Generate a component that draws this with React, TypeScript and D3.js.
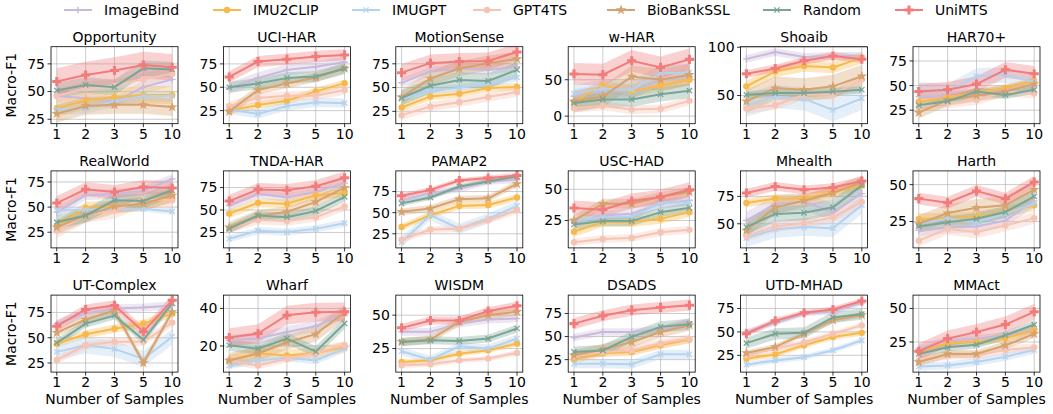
import React from "react";
import * as d3 from "d3";

const xLabels = ["1", "2", "3", "5", "10"];
const datasets = [
  "Opportunity", "UCI-HAR", "MotionSense", "w-HAR", "Shoaib", "HAR70+",
  "RealWorld", "TNDA-HAR", "PAMAP2", "USC-HAD", "Mhealth", "Harth",
  "UT-Complex", "Wharf", "WISDM", "DSADS", "UTD-MHAD", "MMAct",
];
const yDomains: [number, number][] = [
  [21, 90.5], [11, 93.4], [12, 93], [-10.4, 95.4], [20.8, 100.6], [11.3, 89.5],
  [9.4, 86], [7.8, 93.6], [8.2, 99.5], [3, 64.8], [28, 98.2], [7.1, 59.3],
  [16, 92.2], [6.1, 47.1], [7.4, 65], [11.5, 94.9], [7.1, 89.3], [2.5, 60],
];
const yTicks: number[][] = [
  [25, 50, 75], [25, 50, 75], [25, 50, 75], [0, 50], [50, 100], [25, 50, 75],
  [25, 50, 75], [25, 50, 75], [25, 50, 75], [25, 50], [50, 75], [25, 50],
  [25, 50, 75], [20, 40], [25, 50], [25, 50, 75], [25, 50, 75], [25, 50],
];

const seriesNames = ["ImageBind", "IMU2CLIP", "IMUGPT", "GPT4TS", "BioBankSSL", "Random", "UniMTS"];
const seriesColors = ["#c9b9da", "#f8b94c", "#b5d2ee", "#f6c4b5", "#d6a26d", "#7aa595", "#f27c7c"];
const seriesMarkers = ["plus", "circle", "x", "circle", "star", "x", "fplus"];

const imageBindValues = [
  [46, 44, 41, 54, 61], [49, 60, 68.6, 72, 77], [55, 66.8, 70, 68.6, 72], [27, 34, 34, 50, 54.5],
  [88, 95, 90, 91, 91], [38.8, 38.8, 42, 45.7, 50], [45, 61.7, 63, 66, 78], [55, 68, 64, 70, 80],
  [65, 73, 78, 87, 89], [23.7, 29, 30.4, 38.4, 41], [53, 68, 70, 60.7, 77.5], [19, 21, 21.6, 25.7, 39],
  [64, 74, 79, 80, 82], [23, 24, 27.5, 30.5, 37.3], [37.5, 37.5, 43.7, 46.7, 47.5], [49, 55, 55, 57.6, 66],
  [50, 59.6, 69.6, 71.4, 81], [20, 26, 27.5, 29, 35],
];
const imu2clipValues = [
  [35, 42, 45, 47, 47], [25, 31, 35.6, 45.6, 54.4], [29, 40.7, 43.6, 49.6, 50.7], [20, 42, 34, 42, 50],
  [59.5, 75, 80.6, 79, 89], [33.6, 37.8, 43, 47.4, 55], [30.7, 49.3, 50.7, 53.3, 60], [46, 58, 57, 66.4, 69],
  [33, 47, 58, 59, 68], [16, 23.7, 23.7, 26.3, 31.7], [69, 73, 73, 79, 85], [26.8, 26.8, 28, 31.4, 36],
  [44, 53.5, 59, 64, 74], [12.3, 16, 15, 16.3, 19.5], [15, 16.2, 21.2, 23.7, 28.7], [25, 32, 33.3, 40.6, 46.7],
  [21.4, 26, 35.7, 44.6, 49], [18, 24, 25, 28, 33.7],
];
const imugptValues = [
  [34, 35, 41, 46, 46], [26, 21.5, 30, 34, 33], [38, 47, 49.6, 54, 60.7], [31, 38, 36, 59, 60],
  [40, 49, 46.5, 35, 47], [45.7, 44, 59.5, 61, 54], [46.7, 47.3, 48.3, 48.3, 45.7], [18, 27, 25.4, 29, 35.4],
  [15, 47, 31, 43, 58], [25, 27.7, 28.2, 39, 39.8], [37, 45, 47, 46, 67], [23.4, 26.8, 24.5, 30.2, 37],
  [36, 42.5, 39, 29, 51], [9.6, 12.3, 13.7, 12.3, 18.6], [23, 16.7, 26.7, 25, 32.5], [20.6, 20.6, 20, 30.8, 30.8],
  [15, 19.6, 23, 30.4, 41], [6.7, 7.5, 10, 14, 19],
];
const gpt4tsValues = [
  [46, 53, 55, 61, 66], [30, 38.5, 41, 41, 47], [21, 30, 34.6, 40, 45.4], [11, 14, 9, 10, 21],
  [36.6, 40, 50.7, 50.7, 66.5], [28.5, 32, 35.3, 44, 42], [26.7, 42.3, 46.7, 58.3, 56.7], [29, 39, 37.7, 42, 54],
  [18, 30, 31, 41, 53], [7.5, 10.2, 11, 15.6, 17.5], [39, 47.6, 50.6, 56, 70], [12, 20, 17.7, 22.3, 27.3],
  [28, 42.5, 46, 46, 65], [12.3, 9.6, 13.2, 16.3, 20.4], [12.5, 13.2, 16.2, 17.5, 21.7], [28.6, 33.3, 35, 42.4, 47.8],
  [25, 32, 39, 48, 57], [11, 15, 15, 19, 21],
];
const bioBankValues = [
  [30, 37, 38, 38, 36], [24, 47, 54, 60.5, 70], [40, 59.6, 70, 75.7, 80], [20, 27, 54.5, 50, 57],
  [44, 57.7, 56, 59.5, 70], [22.6, 35.3, 40, 44, 51.5], [30, 41.7, 50.7, 53.3, 61.7], [31, 44, 47.8, 59, 75],
  [51, 55, 66, 67, 84], [25, 38.4, 38.4, 43.8, 47.8], [44, 65, 71, 78, 88], [23.4, 30.7, 34.3, 36, 46.6],
  [55, 68, 77, 25, 75.6], [12.3, 16, 22, 26.3, 38], [30, 31.8, 45, 50, 52.5], [29.7, 36, 44, 55, 62.3],
  [27.5, 34, 48, 62.5, 68], [10, 16, 16, 22.5, 31],
];
const randomValues = [
  [51, 56, 54, 71, 70], [50, 54, 60, 61.5, 70], [39, 52, 58, 57, 68.6], [18, 23, 23, 30, 35],
  [50.7, 52.5, 52.5, 54, 56], [30, 34, 44, 40.5, 45.7], [35, 41.7, 56.7, 56, 66.7], [29, 44, 42, 49, 64.6],
  [61, 68, 81, 87, 93], [21.8, 24.5, 24.5, 31.7, 35.2], [47, 59, 60, 65, 85], [21.6, 24.5, 26.8, 31.4, 42],
  [45, 64, 72, 48, 84], [20.4, 18.6, 24, 17, 32], [30, 31.2, 30.7, 32.5, 40], [33.3, 35, 49.6, 60.5, 63.4],
  [38, 48, 49, 65.4, 69], [16, 21, 23, 30, 38],
];
const uniMTSValues = [
  [59, 65, 69, 74, 72], [61, 77.5, 80, 83, 84.6], [65.7, 75.7, 77.5, 78, 87.5], [58, 57, 76, 67, 78],
  [72.5, 78, 86, 91, 87.7], [44, 45.7, 51.5, 66, 62], [54, 67.7, 65, 70, 69], [60, 73, 72, 76.5, 86],
  [70, 77, 88, 91, 94], [35, 33.6, 40.6, 43.8, 49.7], [78, 84, 81, 83, 89], [40.5, 37.7, 45.7, 40.5, 51.8],
  [61.4, 78, 82, 56, 87], [24.5, 26.6, 36.4, 38, 38.2], [40.5, 46, 46, 53, 57], [64, 72.5, 78.6, 81.5, 84],
  [48, 61.8, 70.4, 74, 83], [18, 27.5, 32.5, 38, 47.5],
];
// per-dataset band half-width (std) for each series
const imageBindStd = [6, 6, 5, 10, 4, 5, 5, 5, 4, 4, 8, 4, 4, 3, 3, 4, 3, 3];
const imu2clipStd = [8, 4, 4, 8, 6, 4, 6, 5, 4, 4, 4, 4, 4, 3, 2, 4, 3, 3];
const imugptStd = [5, 5, 4, 12, 12, 8, 3, 4, 6, 3, 8, 3, 8, 2, 3, 5, 3, 3];
const gpt4tsStd = [6, 5, 5, 6, 5, 5, 8, 5, 4, 3, 5, 4, 4, 2, 2, 5, 3, 3];
const bioBankStd = [8, 5, 8, 15, 12, 6, 7, 6, 4, 4, 6, 6, 4, 4, 3, 6, 3, 3];
const randomStd = [7, 6, 8, 10, 4, 4, 7, 5, 3, 4, 7, 4, 4, 3, 3, 6, 6, 3];
const uniMTSStd = [12, 6, 9, 15, 4, 8, 7, 7, 3, 6, 4, 4, 5, 5, 3, 6, 3, 6];

const allValues = [imageBindValues, imu2clipValues, imugptValues, gpt4tsValues, bioBankValues, randomValues, uniMTSValues];
const allStd = [imageBindStd, imu2clipStd, imugptStd, gpt4tsStd, bioBankStd, randomStd, uniMTSStd];

const W = 1053, H = 414;
const FONT = "DejaVu Sans, sans-serif";
const PANEL_W = 127, PANEL_H = 77;
const COL_X0 = 51, COL_STEP = 172.4;
const ROW_Y0 = 46.7, ROW_STEP = 124.2;
const legendTextX = [104, 253, 392, 513, 647, 803, 935];

function Marker({ type, x, y, color }: { type: string; x: number; y: number; color: string }) {
  const s = 3.3;
  if (type === "circle") return <circle cx={x} cy={y} r={3.2} fill={color} />;
  if (type === "plus")
    return (
      <path d={`M${x - s},${y}H${x + s}M${x},${y - s}V${y + s}`} stroke={color} strokeWidth={1.4} fill="none" />
    );
  if (type === "x")
    return (
      <path
        d={`M${x - s * 0.8},${y - s * 0.8}L${x + s * 0.8},${y + s * 0.8}M${x - s * 0.8},${y + s * 0.8}L${x + s * 0.8},${y - s * 0.8}`}
        stroke={color}
        strokeWidth={1.3}
        fill="none"
      />
    );
  if (type === "star")
    return <path d={d3.symbol(d3.symbolStar, 34)() || ""} transform={`translate(${x},${y})`} fill={color} />;
  return <path d={d3.symbol(d3.symbolCross, 46)() || ""} transform={`translate(${x},${y})`} fill={color} />;
}

function Panel({ idx }: { idx: number }) {
  const col = idx % 6, row = Math.floor(idx / 6);
  const left = COL_X0 + col * COL_STEP;
  const top = ROW_Y0 + row * ROW_STEP;
  const x = d3.scaleLinear().domain([-0.2, 4.2]).range([0, PANEL_W]);
  const y = d3.scaleLinear().domain(yDomains[idx]).range([PANEL_H, 0]);
  const clipId = `clip${idx}`;
  const area = d3
    .area<[number, number, number]>()
    .x((d) => x(d[0]))
    .y0((d) => y(d[1] - d[2]))
    .y1((d) => y(d[1] + d[2]));
  const line = d3
    .line<[number, number]>()
    .x((d) => x(d[0]))
    .y((d) => y(d[1]));
  return (
    <g transform={`translate(${left},${top})`}>
      <defs>
        <clipPath id={clipId}>
          <rect x={0} y={0} width={PANEL_W} height={PANEL_H} />
        </clipPath>
      </defs>
      {/* grid */}
      {xLabels.map((_, i) => (
        <line key={"gx" + i} x1={x(i)} x2={x(i)} y1={0} y2={PANEL_H} stroke="#b0b0b0" strokeWidth={0.8} opacity={0.8} />
      ))}
      {yTicks[idx].map((t) => (
        <line key={"gy" + t} x1={0} x2={PANEL_W} y1={y(t)} y2={y(t)} stroke="#b0b0b0" strokeWidth={0.8} opacity={0.8} />
      ))}
      <g clipPath={`url(#${clipId})`}>
        {allValues.map((sv, s) => {
          const vals = sv[idx];
          const sd = allStd[s][idx];
          const pts = vals.map((v, i) => [i, v, sd] as [number, number, number]);
          return (
            <g key={s}>
              <path d={area(pts) || ""} fill={seriesColors[s]} opacity={0.35} />
            </g>
          );
        })}
        {allValues.map((sv, s) => {
          const vals = sv[idx];
          const pts = vals.map((v, i) => [i, v] as [number, number]);
          return (
            <g key={"l" + s}>
              <path d={line(pts) || ""} fill="none" stroke={seriesColors[s]} strokeWidth={2} />
              {pts.map((p, i) => (
                <Marker key={i} type={seriesMarkers[s]} x={x(p[0])} y={y(p[1])} color={seriesColors[s]} />
              ))}
            </g>
          );
        })}
      </g>
      <rect x={0} y={0} width={PANEL_W} height={PANEL_H} fill="none" stroke="#000" strokeWidth={0.8} />
      {/* x ticks */}
      {xLabels.map((lab, i) => (
        <g key={"xt" + i} transform={`translate(${x(i)},${PANEL_H})`}>
          <line y1={0} y2={3.5} stroke="#000" strokeWidth={0.8} />
          <text y={15} textAnchor="middle" fontSize={14} fontFamily={FONT} fill="#000">
            {lab}
          </text>
        </g>
      ))}
      {yTicks[idx].map((t) => (
        <g key={"yt" + t} transform={`translate(0,${y(t)})`}>
          <line x1={0} x2={-3.5} stroke="#000" strokeWidth={0.8} />
          <text x={-6} dy="0.35em" textAnchor="end" fontSize={14} fontFamily={FONT} fill="#000">
            {t}
          </text>
        </g>
      ))}
      <text x={PANEL_W / 2} y={-5} textAnchor="middle" fontSize={14} fontFamily={FONT} fill="#000">
        {datasets[idx]}
      </text>
      {row === 2 && (
        <text x={PANEL_W / 2} y={PANEL_H + 32} textAnchor="middle" fontSize={14} fontFamily={FONT} fill="#000">
          Number of Samples
        </text>
      )}
      {col === 0 && (
        <text
          transform={`translate(${-35},${PANEL_H / 2}) rotate(-90)`}
          textAnchor="middle"
          fontSize={14}
          fontFamily={FONT}
          fill="#000"
        >
          Macro-F1
        </text>
      )}
    </g>
  );
}

export default function App() {
  return (
    <svg
      width={W}
      height={H}
      style={{ position: "absolute", left: 0, top: 0, background: "#fff" }}
      xmlns="http://www.w3.org/2000/svg"
    >
      <rect width={W} height={H} fill="#fff" />
      {seriesNames.map((name, s) => {
        const tx = legendTextX[s];
        const lx0 = tx - 40, lx1 = tx - 12;
        return (
          <g key={name}>
            <line x1={lx0} x2={lx1} y1={10} y2={10} stroke={seriesColors[s]} strokeWidth={2} />
            <Marker type={seriesMarkers[s]} x={(lx0 + lx1) / 2} y={10} color={seriesColors[s]} />
            <text x={tx} y={10} dy="0.35em" fontSize={14} fontFamily={FONT} fill="#000">
              {name}
            </text>
          </g>
        );
      })}
      {datasets.map((_, i) => (
        <Panel key={i} idx={i} />
      ))}
    </svg>
  );
}
